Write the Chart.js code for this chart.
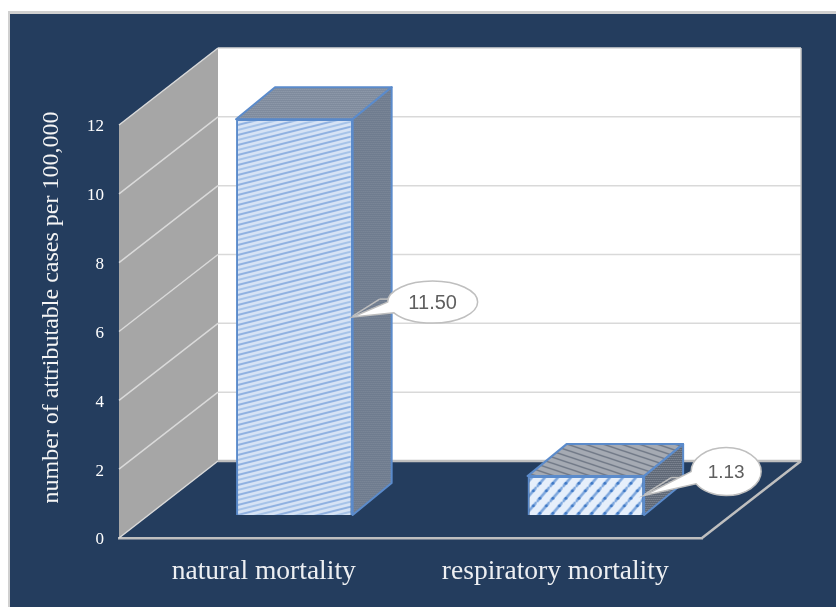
<!DOCTYPE html>
<html>
<head>
<meta charset="utf-8">
<title>attributable cases</title>
<script src="https://cdn.jsdelivr.net/npm/chart.js@4"></script>
<style>
  html, body { margin: 0; padding: 0; background: #fff; }
  canvas { display: block; }
</style>
</head>
<body>
<canvas id="myChart" width="836" height="607"></canvas>
<script>
const categories = ['natural mortality', 'respiratory mortality'];
const values = [11.50, 1.13];
const axisTitle = 'number of attributable cases per 100,000';

const navy = '#243D5E';
const wallDepth = { x: 99, y: -77 };   // front of floor -> back wall
const barShift = { x: 29.6, y: -23 };  // front of floor -> front of bars
const barDepth = { x: 39, y: -32 };
const bubbles = [
  { dx: 80, dy: -15, rx: 45, ry: 21, size: 20 },
  { dx: 82, dy: -24, rx: 35, ry: 24, size: 19 }
];

function makeTile (w, h, bg, paint) {
  const c = document.createElement('canvas');
  c.width = w;
  c.height = h;
  const g = c.getContext('2d');
  g.fillStyle = bg;
  g.fillRect(0, 0, w, h);
  paint(g);
  return g.createPattern(c, 'repeat');
}

function slantLines (g, w, h, color, lineW) {
  g.strokeStyle = color;
  g.lineWidth = lineW;
  for (let i = -1; i <= 1; i++) {
    g.beginPath();
    g.moveTo(0, h + i * h);
    g.lineTo(w, i * h);
    g.stroke();
  }
}

function speckle (g, w, h, color) {
  g.fillStyle = color;
  for (let y = 0; y < h; y += 2) {
    for (let x = (y % 4) / 2; x < w; x += 2) {
      g.fillRect(x, y, 1, 1);
    }
  }
}

const frontTiles = [
  makeTile(40, 10, '#D6E3F5', g => {
    slantLines(g, 40, 10, '#8FB1E1', 2);
    g.translate(0, 5);
    slantLines(g, 40, 10, '#A6C3E9', 2);
  }),
  makeTile(13, 15, '#E6EFFB', g => {
    slantLines(g, 13, 15, '#7FA8DE', 2.6);
    g.fillStyle = '#3F79C6';
    [[3.25, 11.25], [9.75, 3.75]].forEach(d => {
      g.beginPath();
      g.arc(d[0], d[1], 1.6, 0, Math.PI * 2);
      g.fill();
    });
  })
];
const topTiles = [
  makeTile(8, 8, '#7F8B9D', g => speckle(g, 8, 8, '#95A0B0')),
  makeTile(18, 6, '#A5AAB3', g => {
    g.strokeStyle = '#727A88';
    g.lineWidth = 1.5;
    for (let i = -1; i <= 1; i++) {
      g.beginPath();
      g.moveTo(0, i * 6);
      g.lineTo(18, 6 + i * 6);
      g.stroke();
    }
  })
];
const sideTiles = [
  makeTile(4, 4, '#6F7C8F', g => speckle(g, 4, 4, '#808B9B')),
  makeTile(4, 4, '#5F6876', g => speckle(g, 4, 4, '#8C939E'))
];

function fillPoly (ctx, pts, fill, stroke, lineW) {
  ctx.beginPath();
  pts.forEach((p, i) => i ? ctx.lineTo(p[0], p[1]) : ctx.moveTo(p[0], p[1]));
  ctx.closePath();
  if (fill) {
    ctx.fillStyle = fill;
    ctx.fill();
  }
  if (stroke) {
    ctx.strokeStyle = stroke;
    ctx.lineWidth = lineW;
    ctx.lineJoin = 'round';
    ctx.stroke();
  }
}

function seg (ctx, x1, y1, x2, y2, color, lineW) {
  ctx.strokeStyle = color;
  ctx.lineWidth = lineW;
  ctx.beginPath();
  ctx.moveTo(x1, y1);
  ctx.lineTo(x2, y2);
  ctx.stroke();
}

// room behind the bars: slab, left wall, back wall, grid
const roomPlugin = {
  id: 'room',
  beforeDraw (chart) {
    const ctx = chart.ctx;
    ctx.save();
    ctx.fillStyle = '#D0D0D0';
    ctx.fillRect(8, 11, 836, 607);
    ctx.fillStyle = navy;
    ctx.fillRect(10, 14, 836, 607);
    ctx.restore();
  },
  beforeDatasetsDraw (chart) {
    const ctx = chart.ctx;
    const y = chart.scales.y;
    const area = chart.chartArea;
    const l = area.left, r = area.right;
    const dx = wallDepth.x, dy = wallDepth.y;
    const y0 = y.getPixelForValue(0), yTop = y.getPixelForValue(12);
    ctx.save();
    fillPoly(ctx, [[l, yTop], [l + dx, yTop + dy], [l + dx, y0 + dy], [l, y0]], '#A6A6A6');
    fillPoly(ctx, [[l + dx, yTop + dy], [r + dx, yTop + dy], [r + dx, y0 + dy], [l + dx, y0 + dy]], '#FFFFFF');
    y.ticks.forEach(t => {
      const py = y.getPixelForValue(t.value);
      seg(ctx, l, py, l + dx, py + dy, '#DADADA', 1.5);
      if (t.value > 0 && t.value < 12) {
        seg(ctx, l + dx, py + dy, r + dx, py + dy, '#D9D9D9', 1.5);
      }
    });
    seg(ctx, l + dx, yTop + dy, r + dx, yTop + dy, '#D9D9D9', 1.5);
    seg(ctx, r + dx, yTop + dy, r + dx, y0 + dy, '#C8C8C8', 1.5);
    seg(ctx, l + dx, y0 + dy, r + dx, y0 + dy, '#BFBFBF', 2.5);
    seg(ctx, r, y0, r + dx, y0 + dy, '#BFBFBF', 2.5);
    ctx.restore();

    // y axis title
    ctx.save();
    ctx.translate(52, y.getPixelForValue(6) - 24);
    ctx.rotate(-Math.PI / 2);
    ctx.font = '24px "Liberation Serif"';
    ctx.fillStyle = '#F5F5F5';
    ctx.textAlign = 'center';
    ctx.textBaseline = 'middle';
    ctx.fillText(axisTitle, 0, 0);
    ctx.restore();
  },
  beforeDatasetDraw (chart, args) {
    const ctx = chart.ctx;
    ctx.save();
    ctx.translate(barShift.x, barShift.y);
    args.meta.data.forEach((bar, i) => {
      const l = bar.x - bar.width / 2, r = bar.x + bar.width / 2;
      const dx = barDepth.x, dy = barDepth.y;
      fillPoly(ctx, [[l, bar.y], [l + dx, bar.y + dy], [r + dx, bar.y + dy], [r, bar.y]], topTiles[i], '#5B8BCB', 2);
      fillPoly(ctx, [[r, bar.y], [r + dx, bar.y + dy], [r + dx, bar.base + dy], [r, bar.base]], sideTiles[i], '#5B8BCB', 2);
    });
  },
  afterDatasetDraw (chart) {
    chart.ctx.restore();
  },
  afterDatasetsDraw (chart) {
    const ctx = chart.ctx;
    chart.getDatasetMeta(0).data.forEach((bar, i) => {
      const b = bubbles[i];
      const tipX = bar.x + bar.width / 2 + barShift.x;
      const tipY = (bar.y + bar.base) / 2 + barShift.y;
      const cx = tipX + b.dx, cy = tipY + b.dy;
      ctx.save();
      // leader goes under the wedge
      seg(ctx, tipX, tipY - 1, tipX + 27, tipY - 18, '#BFBFBF', 1.5);
      seg(ctx, tipX + 27, tipY - 18, cx - b.rx + 2, tipY - 18, '#BFBFBF', 1.5);
      // wedge joined to the ellipse
      ctx.beginPath();
      ctx.ellipse(cx, cy, b.rx, b.ry, 0, Math.PI, Math.PI * 2.83);
      ctx.lineTo(tipX, tipY);
      ctx.closePath();
      ctx.fillStyle = '#FFFFFF';
      ctx.fill();
      ctx.strokeStyle = '#BFBFBF';
      ctx.lineWidth = 1.5;
      ctx.stroke();
      ctx.fillStyle = '#5F5F5F';
      ctx.font = b.size + 'px "Liberation Sans"';
      ctx.textAlign = 'center';
      ctx.textBaseline = 'middle';
      ctx.fillText(values[i].toFixed(2), cx, cy + 1);
      ctx.restore();
    });
  }
};

const ctx = document.getElementById('myChart');
const myChart = new Chart(ctx, {
  type: 'bar',
  data: {
    labels: categories,
    datasets: [{
      label: axisTitle,
      data: values,
      backgroundColor: frontTiles,
      borderColor: '#5B8BCB',
      borderWidth: 2,
      categoryPercentage: 1,
      barPercentage: 0.4,
      clip: false
    }]
  },
  plugins: [roomPlugin],
  options: {
    responsive: false,
    animation: false,
    layout: { padding: { top: 125, right: 134, bottom: 0, left: 0 } },
    plugins: {
      legend: { display: false },
      tooltip: { enabled: false }
    },
    scales: {
      x: {
        afterFit (scale) { scale.height = 69; },
        grid: { display: false, drawTicks: false },
        border: { display: true, color: '#BFBFBF', width: 2.5 },
        ticks: {
          color: '#EDEFF2',
          padding: 17,
          labelOffset: -1,
          maxRotation: 0,
          font: { family: 'Liberation Serif', size: 27.5 }
        }
      },
      y: {
        min: 0,
        max: 12,
        afterFit (scale) { scale.width = 119; },
        grid: { display: false, drawTicks: false },
        border: { display: false },
        ticks: {
          stepSize: 2,
          color: '#FFFFFF',
          padding: 15,
          labelOffset: 2,
          font: { family: 'Liberation Serif', size: 17 }
        }
      }
    }
  }
});
</script>
</body>
</html>
